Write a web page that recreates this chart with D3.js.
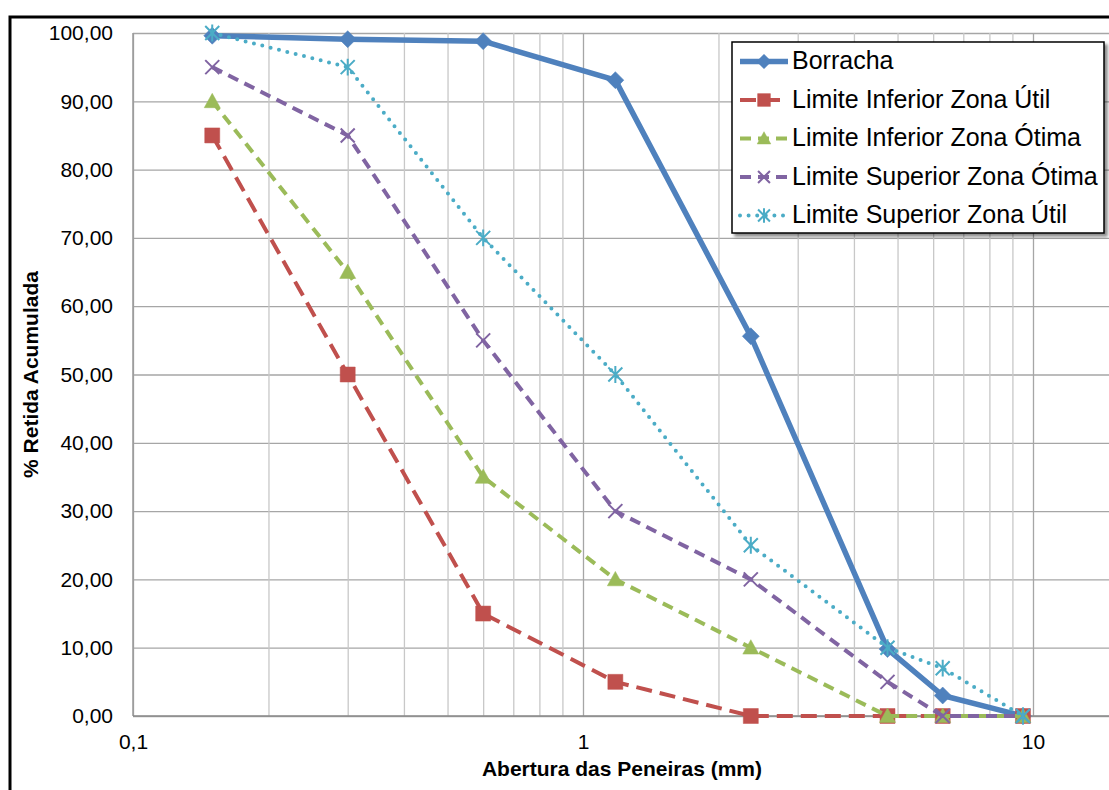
<!DOCTYPE html>
<html>
<head>
<meta charset="utf-8">
<script src="https://cdn.jsdelivr.net/npm/d3@7"></script>
<style>
  body { margin: 0; background: #fff; }
  svg { display: block; font-family: "Liberation Sans", Arial, sans-serif; }
</style>
</head>
<body>
<div id="chart"></div>
<script>
// sieve openings (mm) and % retained for each curve
const sieveSizes = [0.15, 0.3, 0.6, 1.18, 2.36, 4.75, 6.3, 9.5];
const borracha = [99.6, 99.1, 98.8, 93.1, 55.6, 9.8, 3.0, 0.0];
const limInfUtil = [85, 50, 15, 5, 0, 0, 0, 0];
const limInfOtima = [90, 65, 35, 20, 10, 0, 0, 0];
const limSupOtima = [95, 85, 55, 30, 20, 5, 0, 0];
const limSupUtil = [100, 95, 70, 50, 25, 10, 7, 0];

const seriesNames = [
  'Borracha',
  'Limite Inferior Zona Útil',
  'Limite Inferior Zona Ótima',
  'Limite Superior Zona Ótima',
  'Limite Superior Zona Útil'
];
const yTicks = [0, 10, 20, 30, 40, 50, 60, 70, 80, 90, 100];
const xMajorTicks = [0.1, 1, 10];

const W = 1109, H = 790;
const plot = { left: 133, top: 33, bottom: 716, right: 1109 };

// styles per series
const styles = [
  { color: '#4F81BD', width: 5.5, dash: null, marker: 'diamond' },
  { color: '#C0504D', width: 4, dash: '16,8', marker: 'square' },
  { color: '#9BBB59', width: 4, dash: '11,7', marker: 'triangle' },
  { color: '#8064A2', width: 4, dash: '11,7', marker: 'x' },
  { color: '#4BACC6', width: 4, dash: '0,8.6', cap: 'round', marker: 'asterisk' }
];

const seriesValues = [borracha, limInfUtil, limInfOtima, limSupOtima, limSupUtil];
const series = seriesNames.map((name, i) => ({
  name,
  style: styles[i],
  points: sieveSizes.map((s, j) => ({ x: s, y: seriesValues[i][j] }))
}));

const locale = d3.formatLocale({ decimal: ',', thousands: '.', grouping: [3], currency: ['', ''] });
const fmtY = locale.format('.2f');
const fmtX = d => locale.format('')(d);

const x = d3.scaleLog().domain([0.1, 10]).range([133, 1033]);
const y = d3.scaleLinear().domain([0, 100]).range([plot.bottom, plot.top]);

const svg = d3.select('#chart').append('svg')
  .attr('width', W)
  .attr('height', H);

const defs = svg.append('defs');
defs.append('clipPath').attr('id', 'clip')
  .append('rect')
  .attr('x', plot.left - 10).attr('y', plot.top - 12)
  .attr('width', plot.right - plot.left + 20).attr('height', plot.bottom - plot.top + 24);

const shadow = defs.append('filter').attr('id', 'shadow')
  .attr('x', '-10%').attr('y', '-10%').attr('width', '130%').attr('height', '130%');
shadow.append('feDropShadow')
  .attr('dx', 3).attr('dy', 3).attr('stdDeviation', 1.5)
  .attr('flood-color', '#000').attr('flood-opacity', 0.45);

// outer frame (runs off the right/bottom of the picture)
svg.append('rect')
  .attr('x', 10).attr('y', 17)
  .attr('width', W + 40).attr('height', H + 40)
  .attr('fill', 'none')
  .attr('stroke', '#000')
  .attr('stroke-width', 3);

// ---- Y axis with horizontal gridlines
const yAxis = svg.append('g')
  .attr('transform', `translate(${plot.left},0)`)
  .call(d3.axisLeft(y)
    .tickValues(yTicks)
    .tickSize(-(plot.right - plot.left))
    .tickPadding(20)
    .tickFormat(fmtY));
yAxis.select('.domain').remove();
yAxis.selectAll('line').attr('stroke', '#a6a6a6').attr('stroke-width', 1.3);
yAxis.selectAll('text')
  .attr('fill', '#000')
  .style('font-size', '21px');

// ---- X axis with log gridlines
const xAxis = svg.append('g')
  .attr('transform', `translate(0,${plot.bottom})`)
  .call(d3.axisBottom(x)
    .tickValues(x.ticks())
    .tickSize(-(plot.bottom - plot.top))
    .tickPadding(18)
    .tickFormat(d => xMajorTicks.includes(d) ? fmtX(d) : ''));
xAxis.select('.domain').remove();
xAxis.selectAll('.tick line')
  .attr('stroke', d => xMajorTicks.includes(d) ? '#a6a6a6' : '#c8c8c8')
  .attr('stroke-width', 1.3);
xAxis.selectAll('text')
  .attr('fill', '#000')
  .style('font-size', '21px');

// axis lines
svg.append('line')
  .attr('x1', plot.left).attr('x2', plot.left)
  .attr('y1', plot.top).attr('y2', plot.bottom)
  .attr('stroke', '#9a9a9a').attr('stroke-width', 1.5);
svg.append('line')
  .attr('x1', plot.left).attr('x2', plot.right)
  .attr('y1', plot.bottom).attr('y2', plot.bottom)
  .attr('stroke', '#8a8a8a').attr('stroke-width', 1.5);

// ---- markers
function markerPath(type, s) {
  const h = s / 2;
  switch (type) {
    case 'diamond':
      return `M0,${-h}L${h},0L0,${h}L${-h},0Z`;
    case 'square':
      return `M${-h},${-h}H${h}V${h}H${-h}Z`;
    case 'triangle':
      return `M0,${-h}L${h},${h * 0.8}L${-h},${h * 0.8}Z`;
    case 'x':
      return `M${-h},${-h}L${h},${h}M${-h},${h}L${h},${-h}`;
    case 'asterisk':
      return `M${-h},${-h}L${h},${h}M${-h},${h}L${h},${-h}M0,${-h * 1.2}V${h * 1.2}`;
  }
}
const markerSize = { diamond: 17, square: 15, triangle: 16, x: 14, asterisk: 14 };

function drawMarker(g, st, cx, cy, scale = 1) {
  const filled = st.marker === 'diamond' || st.marker === 'square' || st.marker === 'triangle';
  g.append('path')
    .attr('transform', `translate(${cx},${cy})`)
    .attr('d', markerPath(st.marker, markerSize[st.marker] * scale))
    .attr('fill', filled ? st.color : 'none')
    .attr('stroke', st.color)
    .attr('stroke-width', filled ? 0.5 : 2);
}

// ---- series
const line = d3.line().x(d => x(d.x)).y(d => y(d.y));
const plotG = svg.append('g').attr('clip-path', 'url(#clip)');

series.forEach(s => {
  const g = plotG.append('g');
  g.append('path')
    .datum(s.points)
    .attr('d', line)
    .attr('fill', 'none')
    .attr('stroke', s.style.color)
    .attr('stroke-width', s.style.width)
    .attr('stroke-dasharray', s.style.dash)
    .attr('stroke-linecap', s.style.cap || 'butt')
    .attr('stroke-linejoin', 'round');
  s.points.forEach(p => drawMarker(g, s.style, x(p.x), y(p.y)));
});

// ---- axis titles
svg.append('text')
  .attr('transform', `translate(38,${(plot.top + plot.bottom) / 2}) rotate(-90)`)
  .attr('text-anchor', 'middle')
  .style('font-size', '21px')
  .style('font-weight', 'bold')
  .text('% Retida Acumulada');

svg.append('text')
  .attr('x', 622)
  .attr('y', 776)
  .attr('text-anchor', 'middle')
  .style('font-size', '21px')
  .style('font-weight', 'bold')
  .text('Abertura das Peneiras (mm)');

// ---- legend
const legend = svg.append('g').attr('transform', 'translate(732,42)');
legend.append('rect')
  .attr('width', 372).attr('height', 191)
  .attr('fill', '#fff')
  .attr('stroke', '#000')
  .attr('stroke-width', 1.5)
  .attr('filter', 'url(#shadow)');

series.forEach((s, i) => {
  const row = legend.append('g').attr('transform', `translate(0,${27 + i * 38.5})`);
  row.append('line')
    .attr('x1', 8).attr('x2', 56)
    .attr('y1', -7.5).attr('y2', -7.5)
    .attr('stroke', s.style.color)
    .attr('stroke-width', s.style.width)
    .attr('stroke-dasharray', s.style.dash)
    .attr('stroke-linecap', s.style.cap || 'butt');
  drawMarker(row, s.style, 32, -7.5, 0.85);
  row.append('text')
    .attr('x', 60)
    .attr('y', 0)
    .style('font-size', '25px')
    .attr('fill', '#000')
    .text(s.name);
});
</script>
</body>
</html>
